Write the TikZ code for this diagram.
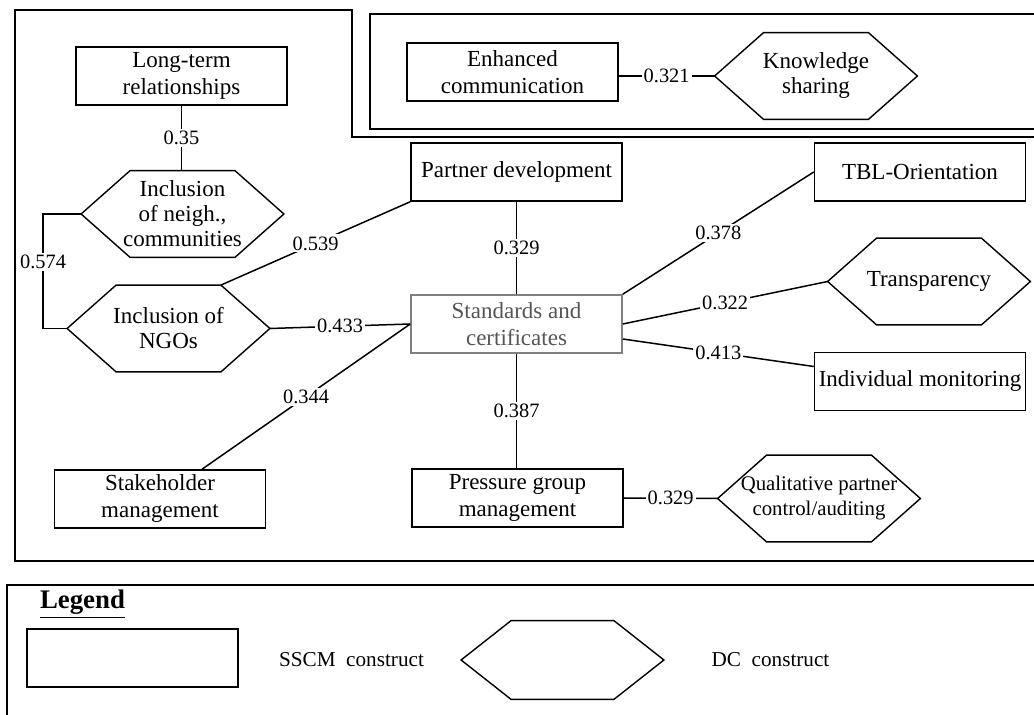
\documentclass[tikz,border=0pt]{standalone}
\usepackage{fontspec}
\setmainfont{Liberation Serif}
\usetikzlibrary{calc}

\definecolor{stdgray}{HTML}{808080}
\definecolor{stdtext}{HTML}{555555}

% font sizes used in the figure
\newcommand{\dgboxfont}{\fontsize{11.5}{13.5}\selectfont}
\newcommand{\dghexfont}{\fontsize{11.5}{12.5}\selectfont}
\newcommand{\dgqualfont}{\fontsize{10.4}{12.5}\selectfont}
\newcommand{\dglblfont}{\fontsize{10.2}{12}\selectfont}
\newcommand{\dglegtitlefont}{\fontsize{13.4}{15}\selectfont}
\newcommand{\dglegfont}{\fontsize{10.6}{12}\selectfont}

% outline of a hexagonal (DC) construct around a named node
\newcommand{\dghex}[2][24.5pt]{%
  \draw[hexline] (#2.west) -- ([xshift=#1]#2.north west) -- ([xshift=-#1]#2.north east)
    -- (#2.east) -- ([xshift=-#1]#2.south east) -- ([xshift=#1]#2.south west) -- cycle;}

\tikzset{
  ssbox/.style={draw, line width=0.75pt, minimum width=105.5pt, minimum height=29pt,
    inner sep=1pt, align=center, font=\dgboxfont},
  dcnode/.style={minimum width=101pt, minimum height=43pt, inner sep=0pt,
    align=center, font=\dghexfont},
  hexline/.style={line width=0.7pt, line join=miter},
  link/.style={line width=0.75pt},
  lbl/.style={fill=white, inner sep=1pt, font=\dglblfont},
  frame/.style={line width=0.75pt},
}

\begin{document}
\begin{tikzpicture}[x=0.5pt,y=-0.5pt]
\useasboundingbox (0,0) rectangle (1034,715);
\clip (0,0) rectangle (1034,715);

% enclosing frames
\draw[frame] (1040,137) -- (352,137) -- (352,10) -- (15,10) -- (15,561) -- (1040,561);
\draw[line width=1pt] (1040,14) -- (370,14) -- (370,129) -- (1040,129);
\draw[frame] (1040,585) -- (7,585) -- (7,720);

% constructs
\node[ssbox] (lt) at (181.5,76) {Long-term\\relationships};
\node[dcnode] (neigh) at (182.5,214) {Inclusion\\of neigh.,\\communities};
\node[dcnode] (ngo) at (168.5,328.5) {Inclusion of\\NGOs};
\node[ssbox] (partner) at (516.5,172) {Partner development};
\node[ssbox, draw=stdgray, text=stdtext] (std) at (516.5,324) {Standards and\\certificates};
\node[ssbox] (tbl) at (920,172) {TBL-Orientation};
\node[dcnode] (transp) at (929,281.5) {Transparency};
\node[ssbox] (indmon) at (920,381.5) {Individual monitoring};
\node[ssbox] (stake) at (160,499) {Stakeholder\\management};
\node[ssbox] (pressure) at (517.5,498) {Pressure group\\management};
\node[dcnode, font=\dgqualfont] (qual) at (819,498.5) {Qualitative partner\\control/auditing};
\node[ssbox] (enh) at (512.5,72) {Enhanced\\communication};
\node[dcnode] (know) at (816,76) {Knowledge\\sharing};

\dghex{neigh}
\dghex{ngo}
\dghex{transp}
\dghex{qual}
\dghex{know}

% correlations
\draw[link] (lt.south) -- node[lbl]{0.35} (lt.south |- neigh.north);
\coordinate (bendA) at (43,214);
\draw[link] (neigh.west) -- (neigh.west -| bendA)
  -- node[lbl,pos=0.42]{0.574} (bendA |- ngo.west) -- (ngo.west);
\coordinate (ngoNE) at ($(ngo.north east)+(-49,0)$);
\draw[link] (ngoNE) -- node[lbl]{0.539} (partner.south west);
\draw[link] (ngo.east) -- node[lbl]{0.433} (std.west);
\coordinate (stakeTop) at ($(stake.north)+(42,0)$);
\draw[link] (std.west) -- node[lbl]{0.344} (stakeTop);
\draw[link] (partner.south) -- node[lbl]{0.329} (std.north);
\draw[link] (std.north east) -- node[lbl]{0.378} (tbl.west);
\draw[link] (std.east) -- node[lbl]{0.322} (transp.west);
\coordinate (stdR) at ($(std.east)+(0,15)$);
\coordinate (indL) at ($(indmon.west)+(0,-15)$);
\draw[link] (stdR) -- node[lbl]{0.413} (indL);
\draw[link] (std.south) -- node[lbl]{0.387} (std.south |- pressure.north);
\draw[link] (pressure.east) -- node[lbl]{0.329} (qual.west);
\draw[link] (enh.east |- know.west) -- node[lbl]{0.321} (know.west);

% legend
\node[font=\dglegtitlefont, anchor=west] (legtitle) at (33,604) {\underline{\textbf{Legend}}};
\node[ssbox] (legrect) at (132.5,658) {};
\node[dcnode, minimum height=39pt] (leghex) at (562.5,660) {};
\dghex[25pt]{leghex}
\node[font=\dglegfont] (legss) at (351.5,660) {SSCM\ \ construct};
\node[font=\dglegfont] (legdc) at (770.5,660) {DC\ \ construct};
\end{tikzpicture}
\end{document}
